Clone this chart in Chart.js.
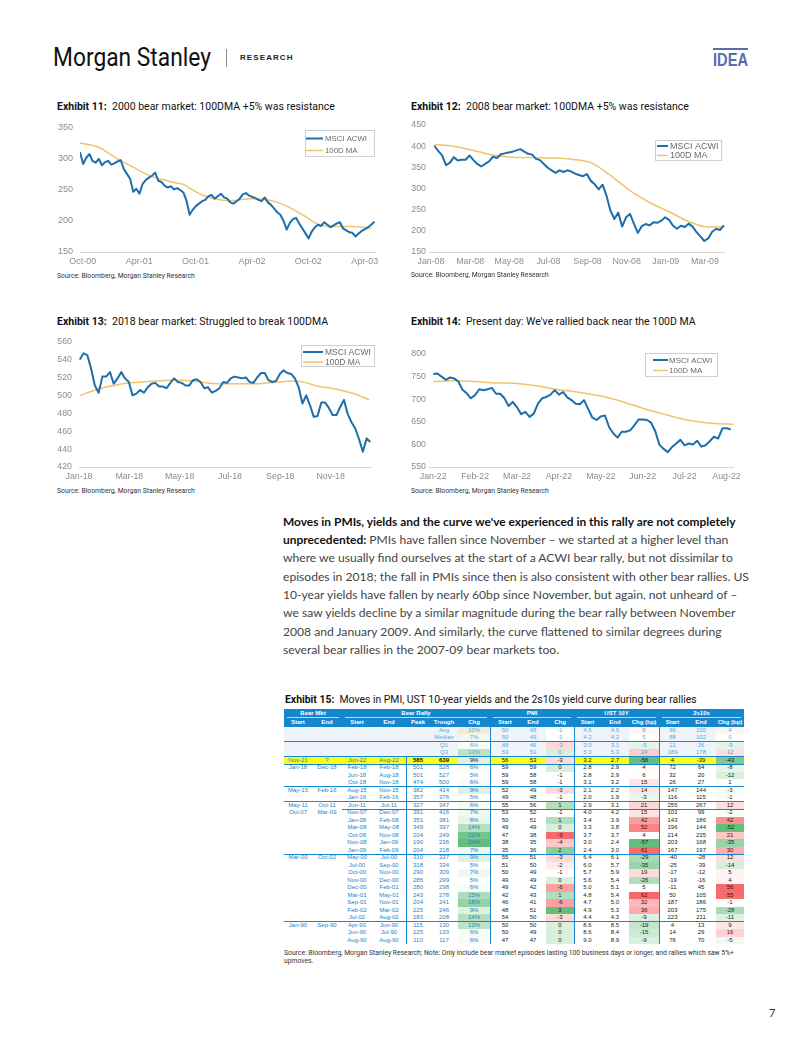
<!DOCTYPE html>
<html><head><meta charset="utf-8">
<title>Exhibits 11-15</title>
<script src="https://cdn.jsdelivr.net/npm/chart.js@4.4.1/dist/chart.umd.min.js"></script>
<style>
html,body{margin:0;padding:0;background:#fff}
body{position:relative;width:802px;height:1037px;overflow:hidden;font-family:Roboto,"Liberation Sans",Arial,sans-serif;color:#222}
.t{position:absolute;white-space:nowrap}
canvas{position:absolute}
#logo{left:53px;top:44px;font-size:25px;line-height:28px;color:#111;transform-origin:0 50%}
#sep{position:absolute;left:226px;top:49px;width:1px;height:18px;background:#8a8a8a}
#research{left:240px;top:53px;font-size:8.6px;line-height:10px;font-weight:700;letter-spacing:1.1px;color:#222;font-family:"Liberation Sans",Arial,sans-serif}
#idea{left:713px;top:51px;font-size:18px;line-height:18px;font-weight:700;color:#5a6db0;font-family:"Liberation Sans",Arial,sans-serif;transform-origin:0 50%}
#ideabar{position:absolute;left:713px;top:48px;width:35px;height:1.6px;background:#5a6db0}
.ttl{font-size:10.8px;line-height:13px;color:#111}
.src{font-size:7px;line-height:9px;color:#333}
#para{left:283px;top:512.85px;font-family:Lato,"Open Sans",sans-serif;font-size:11.3px;line-height:18.3px;color:#444}
#para b{color:#111;font-size:0.985em}
#para div{white-space:nowrap}
.cell{position:absolute;text-align:center;font-family:"Liberation Sans",Arial,sans-serif;font-size:6px;white-space:nowrap;overflow:visible}
.hl{position:absolute;background:#1487cf}
</style></head>
<body>
<div class="t" id="logo">Morgan Stanley</div>
<div id="sep"></div>
<div class="t" id="research">RESEARCH</div>
<div id="ideabar"></div>
<div class="t" id="idea">IDEA</div>

<div class="t ttl" id="ttl11" style="left:57px;top:99.5px"><b>Exhibit 11:</b>&nbsp; 2000 bear market: 100DMA +5% was resistance</div>
<div class="t ttl" id="ttl12" style="left:411px;top:99.5px"><b>Exhibit 12:</b>&nbsp; 2008 bear market: 100DMA +5% was resistance</div>
<div class="t ttl" id="ttl13" style="left:57px;top:314.5px"><b>Exhibit 13:</b>&nbsp; 2018 bear market: Struggled to break 100DMA</div>
<div class="t ttl" id="ttl14" style="left:411px;top:314.5px"><b>Exhibit 14:</b>&nbsp; Present day: We've rallied back near the 100D MA</div>

<canvas id="c11" width="325" height="157" style="left:55px;top:115px"></canvas>
<canvas id="c12" width="335" height="160" style="left:395px;top:112px"></canvas>
<canvas id="c13" width="326" height="157" style="left:50px;top:330px"></canvas>
<canvas id="c14" width="345" height="147" style="left:395px;top:340px"></canvas>

<div class="t src" id="src11" style="left:57px;top:271.5px">Source: Bloomberg, Morgan Stanley Research</div>
<div class="t src" id="src12" style="left:411px;top:270.5px">Source: Bloomberg, Morgan Stanley Research</div>
<div class="t src" id="src13" style="left:57px;top:486.5px">Source: Bloomberg, Morgan Stanley Research</div>
<div class="t src" id="src14" style="left:411px;top:486.5px">Source: Bloomberg, Morgan Stanley Research</div>

<div class="t" id="para">
<div><b>Moves in PMIs, yields and the curve we've experienced in this rally are not completely</b></div>
<div><b>unprecedented:</b> PMIs have fallen since November – we started at a higher level than</div>
<div><span id="pline3">where we usually find ourselves at the start of a ACWI bear rally, but not dissimilar to</span></div>
<div>episodes in 2018; the fall in PMIs since then is also consistent with other bear rallies. US</div>
<div>10-year yields have fallen by nearly 60bp since November, but again, not unheard of –</div>
<div>we saw yields decline by a similar magnitude during the bear rally between November</div>
<div>2008 and January 2009. And similarly, the curve flattened to similar degrees during</div>
<div>several bear rallies in the 2007-09 bear markets too.</div>
</div>

<div class="t ttl" id="ttl15" style="left:285px;top:692.5px"><b>Exhibit 15:</b>&nbsp; Moves in PMI, UST 10-year yields and the 2s10s yield curve during bear rallies</div>
<div id="table"></div>
<div class="t" id="note" style="left:284px;top:949px;font-size:6.6px;line-height:8px;color:#333;font-family:Roboto,'Liberation Sans',Arial,sans-serif"><span id="note1">Source: Bloomberg, Morgan Stanley Research; Note: Only include bear market episodes lasting 100 business days or longer, and rallies which saw 5%+</span><br>upmoves.</div>
<div class="t" style="left:769px;top:1006px;font-size:11px;line-height:14px;color:#333;font-family:Lato,sans-serif">7</div>

<script>
// ---------------- chart data ----------------
// Exhibit 11 (months since Oct-2000)
const ticks11 = ['Oct-00','Apr-01','Oct-01','Apr-02','Oct-02','Apr-03'];
const tickMonths11 = [0,6,12,18,24,30];
const acwi11Start = -0.3, acwi11Step = 1/3;
const acwi11 = [311,292,302,308,297,294,300,290,295,297,291,293,296,298,284,276,268,247,252,244,260,266,270,273,278,265,263,257,254,256,251,253,250,246,233,210,218,224,228,232,234,240,242,236,240,244,238,236,230,228,232,236,243,245,241,239,237,234,232,238,230,226,220,214,210,200,186,197,203,205,196,188,180,172,183,190,194,192,198,194,190,193,196,198,188,185,182,181,175,180,184,187,190,194,199];
const ma11Start = -0.3, ma11Step = 1;
const ma11 = [326,323,319,310,300,292,284,276,270,266,262,259,250,242,237,234,233,234,236,236,234,230,224,216,207,197,192,191,191,191,190,188];

// Exhibit 12 (months since Jan-2008)
const ticks12 = ['Jan-08','Mar-08','May-08','Jul-08','Sep-08','Nov-08','Jan-09','Mar-09'];
const tickMonths12 = [0,2,4,6,8,10,12,14];
const acwi12Start = 0.17, acwi12Step = 0.2;
const acwi12 = [401,389,378,355,361,374,366,368,368,378,367,358,352,358,364,375,372,381,383,385,387,390,393,387,382,380,370,367,358,349,343,337,343,339,343,340,335,332,329,334,318,310,298,309,283,248,228,243,210,232,240,217,195,211,216,213,220,219,224,232,226,212,205,212,209,217,210,197,187,176,182,198,205,202,213];
const ma12Start = 0.17, ma12Step = 1;
const ma12 = [404,400,390,379,374,373,372,369,361,331,295,267,245,222,209,210];

// Exhibit 13 (months since Jan-2018)
const ticks13 = ['Jan-18','Mar-18','May-18','Jul-18','Sep-18','Nov-18'];
const tickMonths13 = [0,2,4,6,8,10];
const acwi13Start = 0.03, acwi13Step = 0.15;
const acwi13 = [540,547,545,530,511,503,521,521,526,513,519,526,519,515,500,502,506,503,509,513,514,510,510,508,514,519,515,514,511,511,517,518,515,508,509,503,505,508,515,514,519,521,520,519,520,515,514,520,525,525,517,515,516,524,528,525,524,519,509,491,500,489,476,477,492,492,486,478,478,487,495,479,470,463,451,437,452,448];
const ma13Start = 0.03, ma13Step = 0.5;
const ma13 = [500,505,509,512,514,515,516,517,517,516,514,513,513,513,513,514,515,516,514,510,508,505,501,495];

// Exhibit 14 (months since Jan-2022)
const ticks14 = ['Jan-22','Feb-22','Mar-22','Apr-22','May-22','Jun-22','Jul-22','Aug-22'];
const tickMonths14 = [0,1,2,3,4,5,6,7];
const acwi14Start = 0, acwi14Step = 0.1;
const acwi14 = [756,757,750,743,748,746,739,721,713,702,709,722,720,722,725,712,712,702,685,694,682,667,672,661,668,690,702,705,710,720,710,716,704,698,690,689,698,678,659,654,662,664,638,624,615,628,628,631,642,655,655,654,648,629,599,590,583,594,602,610,598,602,600,608,595,598,607,617,613,635,636,633];
const ma14Start = 0, ma14Step = 0.5;
const ma14 = [739,741,739,736,735,729,721,715,707,695,680,667,655,648,645,644];

// ---------------- table data ----------------
const bmStart = ['','','','','Nov-21','Jan-18','','','May-15','','May-11','Oct-07','','','','','','Mar-00','','','','','','','','','Jan-90','',''];
const bmEnd   = ['','','','','?','Dec-18','','','Feb-16','','Oct-11','Mar-09','','','','','','Oct-02','','','','','','','','','Sep-90','',''];
const brStart = ['','','','','Jun-22','Feb-18','Jun-18','Oct-18','Aug-15','Jan-16','Jun-11','Nov-07','Jan-08','Mar-08','Oct-08','Nov-08','Jan-09','May-00','Jul-00','Oct-00','Nov-00','Dec-00','Mar-01','Sep-01','Feb-02','Jul-02','Apr-90','Jun-90','Aug-90'];
const brEnd   = ['','','','','Aug-22','Feb-18','Aug-18','Nov-18','Nov-15','Feb-16','Jul-11','Dec-07','Feb-08','May-08','Nov-08','Jan-09','Feb-09','Jul-00','Sep-00','Nov-00','Dec-00','Feb-01','May-01','Nov-01','Mar-02','Aug-02','Jun-90','Jul-90','Aug-90'];
const peak    = ['','','','',585,501,501,474,382,357,327,391,351,349,204,190,204,310,318,290,285,280,243,204,225,183,115,125,110];
const trough  = ['Avg','Median','Q1','Q3',639,528,527,500,414,376,347,416,381,397,249,236,218,337,334,309,299,298,278,241,246,208,130,133,117];
const chgPct  = [10,7,6,13,9,6,5,6,9,5,6,7,8,14,22,24,7,9,5,7,5,6,15,18,9,14,13,6,6];
const pmiStart= [50,50,48,53,56,59,59,59,52,49,55,53,50,49,47,38,35,55,51,50,49,49,42,46,48,54,50,50,47];
const pmiEnd  = [48,49,46,51,53,59,58,58,49,48,56,52,51,49,38,35,36,51,50,49,49,42,43,41,51,50,50,49,47];
const pmiChg  = [-1,-1,-3,0,-3,0,-1,-1,-3,-1,1,-1,1,0,-9,-4,2,-3,-2,-1,0,-6,1,-6,3,-3,0,0,0];
const ustStart= ['4.6','4.2','3.0','5.0','3.2','2.8','2.8','3.1','2.1','2.0','2.9','4.0','3.4','3.3','3.7','3.0','2.4','6.4','6.0','5.7','5.6','5.0','4.8','4.7','4.9','4.4','8.6','8.6','9.0'];
const ustEnd  = ['4.6','4.2','3.1','5.3','2.7','2.9','2.9','3.2','2.2','1.9','3.1','4.2','3.9','3.8','3.7','2.4','3.0','6.1','5.7','5.9','5.4','5.1','5.4','5.0','5.3','4.3','8.5','8.4','8.9'];
const ustChg  = [8,5,-5,24,-56,4,6,15,14,-3,21,15,42,52,4,-57,61,-29,-35,19,-26,5,62,32,36,-9,-19,-15,-9];
const crvStart= [96,88,21,189,4,72,32,26,147,116,255,101,143,196,214,203,167,-40,-25,-17,-19,-11,50,187,203,223,4,14,76];
const crvEnd  = [100,102,26,178,-39,64,20,27,144,115,267,99,186,144,235,168,197,-28,-39,-12,-16,45,105,186,175,211,13,29,70];
const crvChg  = [4,0,-9,12,-43,-8,-12,1,-3,-1,12,-2,42,-52,21,-35,30,12,-14,5,4,56,55,-1,-28,-11,9,16,-5];
const groupHeads = ['Bear Mkt','Bear Rally','PMI','UST 10Y','2s10s'];
const colHeads = ['Start','End','Start','End','Peak','Trough','Chg','Start','End','Chg','Start','End','Chg (bp)','Start','End','Chg (bp)'];

// ---------------- charts ----------------
Chart.defaults.font.family = "'Liberation Sans', Arial, sans-serif";
Chart.defaults.color = '#8c8c8c';
const BLUE = '#1c6fab', GOLD = '#f0c46e';

function series(vals, start, step){ return vals.map((v,i)=>({x:start+i*step, y:v})); }

const legendBox = {
  id:'legendBox',
  afterDraw(chart, args, o){
    const ctx = chart.ctx; ctx.save();
    ctx.fillStyle='#fff'; ctx.fillRect(o.x,o.y,o.w,o.h);
    ctx.strokeStyle='#cfcfcf'; ctx.lineWidth=1; ctx.strokeRect(o.x+0.5,o.y+0.5,o.w-1,o.h-1);
    chart.data.datasets.forEach((ds,i)=>{
      const y=o.rows[i];
      ctx.strokeStyle=ds.borderColor; ctx.lineWidth=ds.borderWidth;
      ctx.beginPath(); ctx.moveTo(o.lx0,y); ctx.lineTo(o.lx1,y); ctx.stroke();
      ctx.fillStyle='#6a6a6a'; ctx.font=o.font; ctx.textBaseline='middle'; ctx.textAlign='left';
      ctx.fillText(ds.label,o.tx,y+0.5);
    });
    ctx.restore();
  }
};

function makeChart(id, c){
  return new Chart(document.getElementById(id), {
    type:'line',
    data:{datasets:[
      {label:'MSCI ACWI', data:series(c.acwi,c.aStart,c.aStep), borderColor:BLUE, borderWidth:2, pointRadius:0, tension:0, borderJoinStyle:'round'},
      {label:'100D MA', data:series(c.ma,c.mStart,c.mStep), borderColor:GOLD, borderWidth:1.5, pointRadius:0, tension:0.4, cubicInterpolationMode:'monotone'}
    ]},
    plugins:[legendBox],
    options:{
      responsive:false, animation:false, events:[],
      layout:{padding:{top:c.padTop,right:c.padRight,left:0,bottom:0}},
      plugins:{legend:{display:false}, tooltip:{enabled:false}, legendBox:c.legend},
      scales:{
        x:{type:'linear', min:c.xmin, max:c.xmax,
           grid:{display:false, drawTicks:false},
           border:{display:true, color:'#d6d6d6', width:1},
           afterBuildTicks:s=>{ s.ticks = c.tickPos.map(v=>({value:v})); },
           ticks:{autoSkip:false, maxRotation:0, padding:4, font:{size:c.fs}, callback:(v,i)=>c.tickLabels[i]},
           afterFit:s=>{ s.height=20; s.paddingLeft=0; s.paddingRight=0; }},
        y:{min:c.ymin, max:c.ymax,
           grid:{display:false, drawTicks:false},
           border:{display:false},
           ticks:{stepSize:c.ystep, padding:c.ypad, font:{size:c.fs}},
           afterFit:s=>{ s.width=c.yw; s.paddingTop=0; s.paddingBottom=0; }}
      }
    }
  });
}

makeChart('c11',{acwi:acwi11,aStart:acwi11Start,aStep:acwi11Step,ma:ma11,mStart:ma11Start,mStep:ma11Step,
  xmin:-0.3,xmax:31.1,tickPos:tickMonths11,tickLabels:ticks11,ymin:150,ymax:350,ystep:50,
  yw:25,ypad:7,padTop:13,padRight:5,fs:9,
  legend:{x:250,y:15,w:70,h:27,lx0:251,lx1:268,tx:270,rows:[23.5,35.5],font:"7.8px 'Liberation Sans', Arial, sans-serif"}});
makeChart('c12',{acwi:acwi12,aStart:acwi12Start,aStep:acwi12Step,ma:ma12,mStart:ma12Start,mStep:ma12Step,
  xmin:-0.1,xmax:15.0,tickPos:tickMonths12,tickLabels:ticks12,ymin:150,ymax:450,ystep:50,
  yw:34,ypad:3,padTop:13,padRight:5.5,fs:8.8,
  legend:{x:260,y:28,w:67,h:21,lx0:262,lx1:273,tx:275,rows:[34,43.5],font:"9px 'Liberation Sans', Arial, sans-serif"}});
makeChart('c13',{acwi:acwi13,aStart:acwi13Start,aStep:acwi13Step,ma:ma13,mStart:ma13Start,mStep:ma13Step,
  xmin:0,xmax:11.62,tickPos:tickMonths13,tickLabels:ticks13,ymin:420,ymax:560,ystep:20,
  yw:29,ypad:7,padTop:11.7,padRight:4.6,fs:8.8,
  legend:{x:251,y:15,w:74,h:22,lx0:253,lx1:273,tx:275,rows:[22,32],font:"8.5px 'Liberation Sans', Arial, sans-serif"}});
makeChart('c14',{acwi:acwi14,aStart:acwi14Start,aStep:acwi14Step,ma:ma14,mStart:ma14Start,mStep:ma14Step,
  xmin:-0.1,xmax:7.16,tickPos:tickMonths14,tickLabels:ticks14,ymin:550,ymax:800,ystep:50,
  yw:34,ypad:3,padTop:14,padRight:6.8,fs:8.8,
  legend:{x:250,y:13,w:73,h:24,lx0:258,lx1:273,tx:274,rows:[20,30.5],font:"8px 'Liberation Sans', Arial, sans-serif"}});

// ---------------- table ----------------
(function(){
  const host = document.getElementById('table');
  const colW=[28,30,30,34,24,28,32,30,26,28,27,28,30,27,30,28];
  const colX=[]; let acc=284; colW.forEach(w=>{colX.push(acc); acc+=w;});
  const right = acc;
  const top0=709, hH=8.75, rH=7.5, bodyTop=top0+2*hH;
  const HB='#1487cf';
  function div(cls, css, txt){ const d=document.createElement('div'); d.className=cls; Object.assign(d.style,css); if(txt!==undefined) d.textContent=txt; host.appendChild(d); return d; }
  div('', {position:'absolute',left:'284px',top:top0+'px',width:(right-284)+'px',height:(2*hH)+'px',background:HB});
  const groups=[[0,1],[2,6],[7,9],[10,12],[13,15]];
  groups.forEach((g,i)=>{
    const l=colX[g[0]], r=colX[g[1]]+colW[g[1]];
    div('cell',{left:l+'px',top:top0+'px',width:(r-l)+'px',height:hH+'px',lineHeight:hH+'px',color:'#fff',fontWeight:'700'},groupHeads[i]);
    div('',{position:'absolute',left:(l+3)+'px',top:(top0+hH-0.5)+'px',width:(r-l-6)+'px',height:'0.8px',background:'rgba(255,255,255,0.7)'});
  });
  colHeads.forEach((h,c)=>div('cell',{left:colX[c]+'px',top:(top0+hH)+'px',width:colW[c]+'px',height:hH+'px',lineHeight:hH+'px',color:'#fff',fontWeight:'700'},h));

  const G=[99,190,123], R=[248,105,107];
  function mix(c,t){ t=Math.max(0,Math.min(1,t)); return 'rgb('+c.map(v=>Math.round(255+(v-255)*t)).join(',')+')'; }
  function chgColor(v){ return mix(G,(v-5)/19); }
  function pmiColor(v){ return v>=-1 ? mix(G,(v+1)/4) : mix(R,(-1-v)/8); }
  function ustColor(v){ return v>=5 ? mix(R,(v-5)/57) : mix(G,(5-v)/62); }
  function crvColor(v){ return v>=0 ? mix(R,v/56) : mix(G,-v/52); }
  const cols=[bmStart,bmEnd,brStart,brEnd,peak,trough,chgPct,pmiStart,pmiEnd,pmiChg,ustStart,ustEnd,ustChg,crvStart,crvEnd,crvChg];
  for(let r=0;r<trough.length;r++){
    const y=bodyTop+r*rH;
    for(let c=0;c<16;c++){
      let v=cols[c][r];
      let txt = (c===6) ? v+'%' : String(v);
      let bg='transparent', color;
      if(r<4){ bg='#eef4fa'; color='#5aa6dc'; }
      else if(r===4){ bg='#fbfb1c'; color = (c<4)? '#1f7fc4' : '#111'; }
      else { color = (c<7)? '#1f7fc4' : '#222'; }
      if(c===6) bg = (r===0)? '#f3ebd2' : chgColor(v);
      if(c===9) bg = pmiColor(v);
      if(c===12) bg = ustColor(v);
      if(c===15) bg = crvColor(v);
      const fw = (r===4 && (c===4||c===5))? '700':'400';
      div('cell',{left:colX[c]+'px',top:y+'px',width:colW[c]+'px',height:rH+'px',lineHeight:rH+'px',background:bg,color:color,fontWeight:fw},txt);
    }
  }
  const bottom = bodyTop+trough.length*rH;
  [[1,0],[3,0],[4,0],[7,0],[9,0],[10,2],[16,0],[25,0]].forEach(([r,c])=>{
    const y=bodyTop+(r+1)*rH-0.5;
    div('hl',{left:colX[c]+'px',top:y+'px',width:(right-colX[c])+'px',height:'1px'});
  });
  [[406,bodyTop+4*rH],[490,bodyTop],[574,bodyTop],[659,bodyTop]].forEach(([x,y0])=>{
    div('hl',{left:(x-0.5)+'px',top:y0+'px',width:'1px',height:(bottom-y0)+'px'});
  });
})();

// ---------------- text fitting ----------------
function fitFont(el, target){ const w=el.getBoundingClientRect().width; const fs=parseFloat(getComputedStyle(el).fontSize); el.style.fontSize=(fs*target/w)+'px'; }
function fitScale(el, target){ const w=el.getBoundingClientRect().width; el.style.transform='scaleX('+(target/w)+')'; }
fitScale(document.getElementById('logo'),158);
fitScale(document.getElementById('idea'),35);
fitFont(document.getElementById('research'),53);
fitFont(document.getElementById('ttl11'),278);
['ttl12','ttl13','ttl14'].forEach(id=>document.getElementById(id).style.fontSize=document.getElementById('ttl11').style.fontSize);
fitFont(document.getElementById('ttl15'),412);
fitFont(document.getElementById('src11'),138);
['src12','src13','src14'].forEach(id=>document.getElementById(id).style.fontSize=document.getElementById('src11').style.fontSize);
(function(){ const p=document.getElementById('para'); const s=document.getElementById('pline3'); const w=s.getBoundingClientRect().width; const fs=parseFloat(getComputedStyle(p).fontSize); p.style.fontSize=(fs*450/w)+'px'; })();
(function(){ const n=document.getElementById('note'); const s=document.getElementById('note1'); const w=s.getBoundingClientRect().width; const fs=parseFloat(getComputedStyle(n).fontSize); n.style.fontSize=(fs*451/w)+'px'; })();
</script>
</body></html>
